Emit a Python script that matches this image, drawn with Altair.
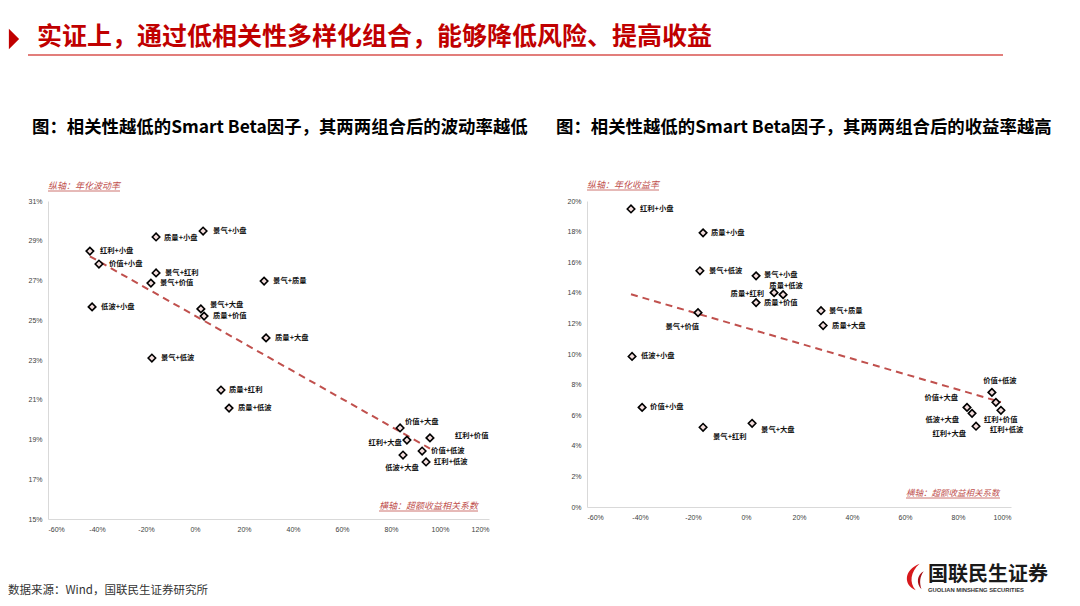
import altair as alt
import pandas as pd

# ---------------- data ----------------
# Left chart: correlation of excess returns (x, %) vs annualised volatility (y, %)
pairs_l = ["红利+小盘", "价值+小盘", "质量+小盘", "景气+小盘", "景气+红利", "景气+价值",
           "景气+质量", "低波+小盘", "景气+大盘", "质量+价值", "质量+大盘", "景气+低波",
           "质量+红利", "质量+低波", "价值+大盘", "红利+大盘", "红利+价值", "价值+低波",
           "低波+大盘", "红利+低波"]
corr_l = [-42.9, -39.2, -15.9, 3.3, -15.9, -18.0, 28.2, -42.0, 2.4, 3.7, 29.0, -17.6,
          10.6, 13.9, 83.7, 86.5, 95.9, 92.7, 84.9, 94.3]
vol_l = [28.48, 27.83, 29.19, 29.49, 27.38, 26.87, 26.97, 25.67, 25.57, 25.21, 24.11, 23.10,
         21.49, 20.58, 19.58, 18.97, 19.08, 18.42, 18.22, 17.87]

# Right chart: correlation (x, %) vs annualised return (y, %)
pairs_r = ["红利+小盘", "质量+小盘", "景气+低波", "景气+小盘", "质量+红利", "质量+低波",
           "质量+价值", "景气+价值", "景气+质量", "质量+大盘", "低波+小盘", "价值+小盘",
           "景气+红利", "景气+大盘", "价值+低波", "红利+低波", "红利+价值", "价值+大盘",
           "低波+大盘", "红利+大盘"]
corr_r = [-43.4, -16.2, -17.4, 3.8, 10.6, 14.0, 3.8, -18.1, 28.3, 29.1, -43.0, -39.2,
          -16.2, 2.3, 92.8, 94.3, 96.2, 83.4, 85.3, 86.8]
ret_r = [19.48, 17.92, 15.44, 15.11, 14.01, 13.88, 13.36, 12.70, 12.83, 11.86, 9.84, 6.51,
         5.21, 5.47, 7.49, 6.84, 6.32, 6.51, 6.12, 5.28]

x_ticks_l = [-60, -40, -20, 0, 20, 40, 60, 80, 100, 120]
y_ticks_l = [15, 17, 19, 21, 23, 25, 27, 29, 31]
x_ticks_r = [-60, -40, -20, 0, 20, 40, 60, 80, 100]
y_ticks_r = [0, 2, 4, 6, 8, 10, 12, 14, 16, 18, 20]

# ---------------- label placement (pixels, style only) ----------------
lab_dx_l = [10, 10, 8, 10, 9, 9, 9, 9, 9, 9, 9, 9, 8, 9, 5, -5, 25, 9, -1, 8]
lab_dy_l = [0, 0, 1, 0, 0, 0, 0, 0, -4, 0, 0, 0, 0, 0, -6, 3, -2, 0, 13, 0]
lab_al_l = ["left"] * 14 + ["left", "right", "left", "left", "center", "left"]

lab_dx_r = [9, 8, 9, 8, -10, 3, 8, 1, 8, 9, 9, 8, 10, 9, 8, -6, -17, -9, -13, -10]
lab_dy_r = [0, 0, 0, -1, 1, -9, 0, 14, 0, 0, 0, 0, 10, 7, -11, 28, 10, -9, 7, 8]
lab_al_r = ["left", "left", "left", "left", "right", "center", "left", "right", "left", "left",
            "left", "left", "left", "left", "center", "left", "left", "right", "right", "right"]

CJK = "Noto Sans CJK SC"
RED = "#c0504d"


def txt(s, px, py, **kw):
    return alt.Chart(pd.DataFrame({"t": [s]})).mark_text(**kw).encode(
        x=alt.value(px), y=alt.value(py), text="t:N")


def rule(x1, x2, y, color, w):
    return alt.Chart(pd.DataFrame({"t": [0]})).mark_rule(color=color, strokeWidth=w).encode(
        x=alt.value(x1), x2=alt.value(x2), y=alt.value(y))


def panel(pairs, xv, yv, dx, dy, al, xdom, ydom, xt, yt, w, h, decos):
    df = pd.DataFrame({"pair": pairs, "x": xv, "y": yv, "dx": dx, "dy": dy, "al": al})
    xsc = alt.Scale(domain=xdom, nice=False, zero=False)
    ysc = alt.Scale(domain=ydom, nice=False, zero=False)
    common = dict(title=None, ticks=False, grid=False, domainColor="#d9d9d9", domainWidth=1,
                  labelFont="Liberation Sans", labelFontSize=7, labelColor="#404040",
                  labelPadding=6, labelExpr="datum.value + '%'")
    xax = alt.Axis(values=xt, **common)
    yax = alt.Axis(values=yt, **common)
    base = alt.Chart(df)
    trend = base.transform_regression("x", "y").mark_line(
        color=RED, strokeWidth=2, strokeDash=[7, 5]).encode(
        x=alt.X("x:Q", scale=xsc, axis=xax), y=alt.Y("y:Q", scale=ysc, axis=yax))
    pts = base.mark_point(shape="diamond", filled=True, fill="#f2dcdb", stroke="#000000",
                          strokeWidth=1.6, size=56, opacity=1).encode(
        x=alt.X("x:Q", scale=xsc, axis=xax), y=alt.Y("y:Q", scale=ysc, axis=yax))
    kx = (xdom[1] - xdom[0]) / w
    ky = (ydom[1] - ydom[0]) / h
    texts = []
    for a in ("left", "center", "right"):
        texts.append(base.transform_filter(alt.datum.al == a).transform_calculate(
            lx=f"datum.x + datum.dx * {kx}", ly=f"datum.y - datum.dy * {ky}"
        ).mark_text(align=a, baseline="middle", font=CJK, fontSize=7.3, fontWeight="bold",
                    color="#111111").encode(
            x=alt.X("lx:Q", scale=xsc, axis=xax), y=alt.Y("ly:Q", scale=ysc, axis=yax),
            text="pair:N"))
    return alt.layer(*decos, trend, pts, *texts).properties(width=w, height=h)


# decorations of the left panel (pixel positions relative to its plot origin)
frame = alt.Chart(pd.DataFrame({"t": [0]})).mark_rect(opacity=0).encode(
    x=alt.value(-40), x2=alt.value(1023), y=alt.value(-193), y2=alt.value(396))
tri = alt.Chart(pd.DataFrame({"t": [0]})).mark_point(
    shape="M-0.5,-1L0.5,0L-0.5,1Z", filled=True, color="#c00000", size=420, opacity=1
).encode(x=alt.value(-34), y=alt.value(-162))

decos_l = [
    frame, tri,
    txt("实证上，通过低相关性多样化组合，能够降低风险、提高收益", -11, -164, align="left",
        baseline="middle", font=CJK, fontSize=25, fontWeight="bold", color="#c00000"),
    rule(-20, 955, -146, "#d9534f", 1.3),
    txt("图：相关性越低的Smart Beta因子，其两两组合后的波动率越低", -16, -73, align="left",
        baseline="middle", font=CJK, fontSize=17.4, fontWeight="bold", color="#000000"),
    txt("数据来源：Wind，国联民生证券研究所", -40, 390, align="left", baseline="middle",
        font=CJK, fontSize=11.5, color="#333333"),
    txt("纵轴：年化波动率", 0, -15, align="left", baseline="middle", font=CJK, fontSize=9,
        fontStyle="italic", color=RED),
    rule(0, 72, -10, RED, 0.8),
    txt("横轴：超额收益相关系数", 331, 305, align="left", baseline="middle", font=CJK,
        fontSize=9, fontStyle="italic", color=RED),
    rule(331, 430, 310, RED, 0.8),
]

flame = alt.Chart(pd.DataFrame({"t": [0]})).mark_point(
    shape="M0.35,-1C-0.85,-0.55 -0.9,0.6 0.05,1C-0.45,0.45 -0.35,-0.4 0.35,-1Z",
    filled=True, color="#d7191c", size=700, opacity=1).encode(x=alt.value(328), y=alt.value(376))
flame2 = alt.Chart(pd.DataFrame({"t": [0]})).mark_point(
    shape="M0.6,-0.6C0.0,-0.3 -0.1,0.5 0.4,1C0.2,0.4 0.25,-0.1 0.6,-0.6Z",
    filled=True, color="#a50f15", size=500, opacity=1).encode(x=alt.value(330), y=alt.value(377))

decos_r = [
    txt("图：相关性越低的Smart Beta因子，其两两组合后的收益率越高", -31, -73, align="left",
        baseline="middle", font=CJK, fontSize=17.4, fontWeight="bold", color="#000000"),
    txt("纵轴：年化收益率", 0, -16, align="left", baseline="middle", font=CJK, fontSize=9,
        fontStyle="italic", color=RED),
    rule(0, 72, -11, RED, 0.8),
    txt("横轴：超额收益相关系数", 319, 292, align="left", baseline="middle", font=CJK,
        fontSize=8.5, fontStyle="italic", color=RED),
    rule(319, 413, 297, RED, 0.8),
    flame, flame2,
    txt("国联民生证券", 341, 374, align="left", baseline="middle", font=CJK, fontSize=20,
        fontWeight="bold", color="#1a1a1a"),
    txt("GUOLIAN MINSHENG SECURITIES", 341, 389, align="left", baseline="middle",
        font="Liberation Sans", fontSize=5.8, fontWeight="bold", color="#333333"),
]

left = panel(pairs_l, corr_l, vol_l, lab_dx_l, lab_dy_l, lab_al_l, [-60, 120], [15, 31],
             x_ticks_l, y_ticks_l, 441, 318, decos_l)
right = panel(pairs_r, corr_r, ret_r, lab_dx_r, lab_dy_r, lab_al_r, [-60, 100], [0, 20],
              x_ticks_r, y_ticks_r, 424, 306, decos_r)

chart = alt.hconcat(left, right, spacing=98, bounds="flush").properties(
    padding=0, background="white"
).configure_view(stroke=None)

chart.save("out.html", embed_options={"renderer": "svg", "actions": False})
